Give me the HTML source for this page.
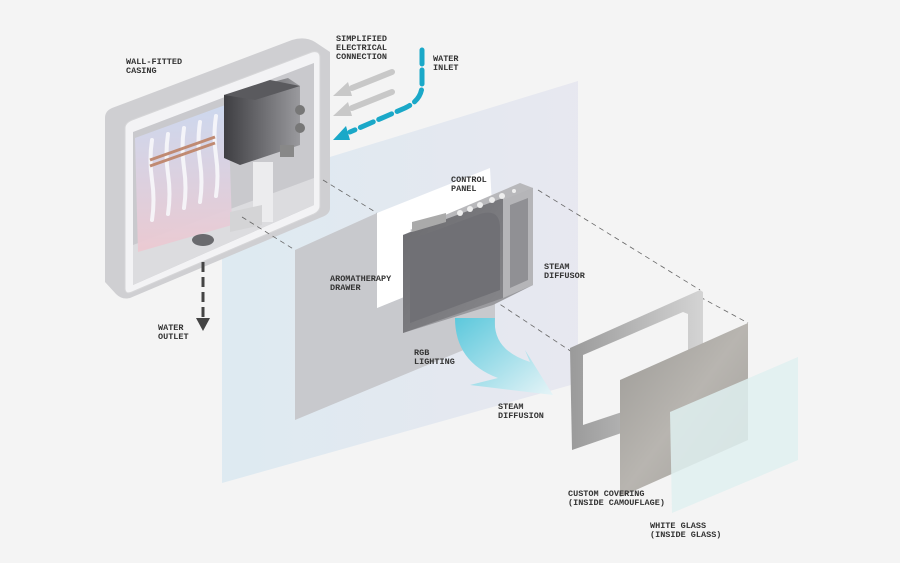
<!DOCTYPE html>
<html><head><meta charset="utf-8"><style>
html,body{margin:0;padding:0;background:#f4f4f4;}
svg{display:block}
text{font-family:"Liberation Mono",monospace;font-size:8.5px;font-weight:bold;fill:#333;letter-spacing:0px}
</style></head><body>
<svg width="900" height="563" viewBox="0 0 900 563" xmlns="http://www.w3.org/2000/svg">
<defs>
<linearGradient id="wall" x1="0" y1="0" x2="1" y2="0">
<stop offset="0" stop-color="#dbe9f1"/><stop offset="1" stop-color="#e6e6ef"/></linearGradient>
<linearGradient id="tank" x1="0" y1="0" x2="0" y2="1">
<stop offset="0" stop-color="#cdd9f0"/><stop offset="1" stop-color="#ecc9d1"/></linearGradient>
<linearGradient id="box" x1="0" y1="0" x2="1" y2="0">
<stop offset="0" stop-color="#3e3e42"/><stop offset="1" stop-color="#9a9a9e"/></linearGradient>
<linearGradient id="steam" x1="0" y1="0" x2="1" y2="1">
<stop offset="0" stop-color="#5cc8dc"/><stop offset="1" stop-color="#e6f4f7"/></linearGradient>
<linearGradient id="stone" x1="0" y1="0" x2="1" y2="1">
<stop offset="0" stop-color="#9c9a96"/><stop offset="0.5" stop-color="#b8b5b0"/><stop offset="1" stop-color="#a09d99"/></linearGradient>
<linearGradient id="frame" x1="0" y1="0" x2="1" y2="0">
<stop offset="0" stop-color="#9a9a9a"/><stop offset="1" stop-color="#d4d4d4"/></linearGradient>
<linearGradient id="front" x1="0" y1="0" x2="1" y2="1">
<stop offset="0" stop-color="#6a6a6e"/><stop offset="1" stop-color="#88888c"/></linearGradient>
</defs>

<polygon points="222,190 578,81 578,383 222,483" fill="url(#wall)" opacity="0.9"/>
<polygon points="295,250 377,213 377,308 495,260 495,337 295,420" fill="#c8c9cd"/>
<polygon points="377,213 490,168 495,260 377,308" fill="#ffffff"/>

<path d="M112,108 L292,40 Q305,36 315,42 L330,52 L330,208 Q330,214 322,217 L130,298 Q122,300 116,294 L105,282 L105,118 Q105,111 112,108 Z" fill="#cfcfd2"/>
<path d="M132,120 L312,52 Q320,50 320,58 L320,206 Q320,211 314,214 L132,292 Q125,295 125,288 L125,128 Q125,123 132,120 Z" fill="#f3f3f5" stroke="#d6d6d8"/>
<polygon points="133,132 314,63 314,205 133,285" fill="#c9c9cd"/>
<polygon points="133,245 314,178 314,205 133,285" fill="#dcdcdf"/>
<polygon points="135,138 228,104 232,225 138,252" fill="url(#tank)" opacity="0.95"/>
<g stroke="#f8f8fb" stroke-width="4" stroke-linecap="round" fill="none" opacity="0.9">
<path d="M152,140 q-3,20 0,40 q3,20 0,40"/>
<path d="M168,134 q-3,20 0,40 q3,20 0,40"/>
<path d="M184,128 q-3,20 0,40 q3,20 0,40"/>
<path d="M200,122 q-3,20 0,40 q3,20 0,40"/>
<path d="M216,116 q-3,20 0,40 q3,20 0,40"/>
</g>
<g stroke="#c08a72" stroke-width="3" fill="none"><path d="M150,160 L215,137"/><path d="M150,166 L215,143"/></g>
<polygon points="224,95 288,78 300,86 300,145 240,165 224,158" fill="url(#box)"/>
<polygon points="224,95 270,80 300,86 255,100" fill="#5a5a5e"/>
<rect x="253" y="162" width="20" height="60" fill="#ececee"/>
<polygon points="230,212 262,205 262,225 230,232" fill="#d4d4d6"/>
<ellipse cx="203" cy="240" rx="11" ry="6" fill="#6a6a6e"/>
<circle cx="300" cy="110" r="5" fill="#777"/><circle cx="300" cy="128" r="5" fill="#777"/>
<rect x="280" y="145" width="14" height="12" fill="#888"/>

<g stroke="#c8c8c8" stroke-width="6" stroke-linecap="round">
<line x1="392" y1="72" x2="352" y2="88"/><line x1="392" y1="92" x2="352" y2="108"/></g>
<polygon points="333,96 348,82 352,96" fill="#c8c8c8"/>
<polygon points="333,116 348,102 352,116" fill="#c8c8c8"/>
<path d="M422,50 L422,85 Q422,100 405,108 L350,132" stroke="#1aa8c8" stroke-width="5" fill="none" stroke-dasharray="14,6" stroke-linecap="round"/>
<polygon points="333,140 346,126 350,140" fill="#1aa8c8"/>
<line x1="203" y1="262" x2="203" y2="318" stroke="#444" stroke-width="3" stroke-dasharray="10,5"/>
<polygon points="196,318 210,318 203,331" fill="#444"/>

<g stroke="#666" stroke-width="0.8" stroke-dasharray="5,4" fill="none">
<line x1="323" y1="180" x2="377" y2="213"/>
<line x1="242" y1="217" x2="295" y2="250"/>
<line x1="538" y1="190" x2="700" y2="290"/>
<line x1="418" y1="250" x2="572" y2="352"/>
<line x1="700" y1="297" x2="748" y2="323"/>
<line x1="585" y1="355" x2="620" y2="380"/>
</g>

<polygon points="403,235 520,185 533,188 533,285 493,305 403,333" fill="#9a9a9e"/>
<polygon points="410,230 520,183 533,188 420,236" fill="#b8b8bb"/>
<polygon points="503,200 533,188 533,285 503,298" fill="#b5b5b8"/>
<polygon points="510,205 528,198 528,280 510,288" fill="#909094"/>
<polygon points="403,235 503,198 503,298 403,333" fill="url(#front)"/>
<path d="M410,240 L480,214 Q500,208 500,228 L500,290 L410,323 Z" fill="#707075"/>
<polygon points="412,222 446,213 446,222 412,232" fill="#aaa"/>
<g fill="#eee"><circle cx="460" cy="213" r="3"/><circle cx="470" cy="209" r="3"/><circle cx="480" cy="205" r="3"/><circle cx="492" cy="200" r="3"/><circle cx="502" cy="196" r="3"/><circle cx="514" cy="191" r="2"/></g>

<path d="M455,318 L495,318 Q492,350 530,362 L525,350 L553,395 L470,385 L498,378 Q455,362 455,318 Z" fill="url(#steam)"/>

<polygon points="570,348 700,290 703,292 703,405 572,450" fill="url(#frame)"/>
<polygon points="583,355 683,312 688,314 688,390 583,425" fill="#f4f4f4"/>
<polygon points="620,380 748,323 748,440 620,497" fill="url(#stone)"/>
<polygon points="670,412 798,357 798,460 672,513" fill="#dff0f0" opacity="0.85"/>

<text x="126" y="64">WALL-FITTED</text><text x="126" y="73">CASING</text>
<text x="336" y="41">SIMPLIFIED</text><text x="336" y="50">ELECTRICAL</text><text x="336" y="59">CONNECTION</text>
<text x="433" y="61">WATER</text><text x="433" y="70">INLET</text>
<text x="451" y="182">CONTROL</text><text x="451" y="191">PANEL</text>
<text x="330" y="281">AROMATHERAPY</text><text x="330" y="290">DRAWER</text>
<text x="544" y="269">STEAM</text><text x="544" y="278">DIFFUSOR</text>
<text x="158" y="330">WATER</text><text x="158" y="339">OUTLET</text>
<text x="414" y="355">RGB</text><text x="414" y="364">LIGHTING</text>
<text x="498" y="409">STEAM</text><text x="498" y="418">DIFFUSION</text>
<text x="568" y="496">CUSTOM COVERING</text><text x="568" y="505">(INSIDE CAMOUFLAGE)</text>
<text x="650" y="528">WHITE GLASS</text><text x="650" y="537">(INSIDE GLASS)</text>
</svg>
</body></html>
